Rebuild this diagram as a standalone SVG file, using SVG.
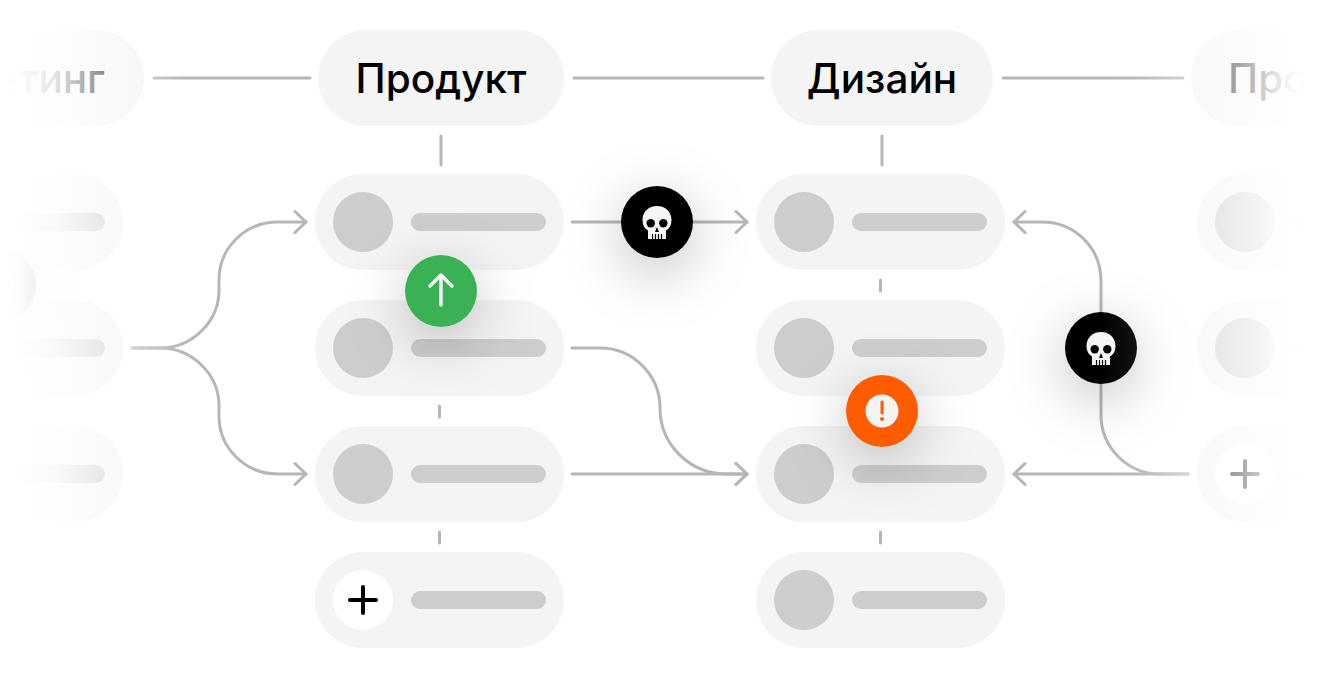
<svg xmlns="http://www.w3.org/2000/svg" width="1323" height="678" viewBox="0 0 1323 678">
<style>
.pill{fill:#f4f4f4}
.dot{fill:#cdcdcd}
.bar{fill:#cdcdcd}
.hd{font-family:Inter,"Liberation Sans","Noto Sans",sans-serif;font-size:40.500px;font-weight:500;fill:#000;text-anchor:middle}
.ln{fill:none;stroke:#b6b6b6;stroke-width:3;stroke-linecap:round}
.ar{marker-end:url(#a)}
.plus{fill:none;stroke-width:4;stroke-linecap:round}
</style>
<defs>
<marker id="a" markerUnits="userSpaceOnUse" markerWidth="16" markerHeight="26" refX="13" refY="13" orient="auto" viewBox="0 0 16 26">
<path d="M2 2.500L13 13L2 23.500" fill="none" stroke="#b6b6b6" stroke-width="3" stroke-linecap="round" stroke-linejoin="round"/>
</marker>
<filter id="s" x="-250%" y="-250%" width="600%" height="600%"><feDropShadow dx="0" dy="14" stdDeviation="28" flood-color="#000" flood-opacity="0.25"/></filter>
<linearGradient id="fl" gradientUnits="userSpaceOnUse" x1="0" y1="0" x2="185" y2="0">
<stop offset="0" stop-color="#fff" stop-opacity="1"/>
<stop offset="0.08" stop-color="#fff" stop-opacity="0.995"/>
<stop offset="0.19" stop-color="#fff" stop-opacity="0.95"/>
<stop offset="0.3" stop-color="#fff" stop-opacity="0.89"/>
<stop offset="0.56" stop-color="#fff" stop-opacity="0.55"/>
<stop offset="0.78" stop-color="#fff" stop-opacity="0.3"/>
<stop offset="1" stop-color="#fff" stop-opacity="0"/>
</linearGradient>
<linearGradient id="fr" gradientUnits="userSpaceOnUse" x1="1100" y1="0" x2="1305" y2="0">
<stop offset="0" stop-color="#fff" stop-opacity="0"/>
<stop offset="0.18" stop-color="#fff" stop-opacity="0.07"/>
<stop offset="0.44" stop-color="#fff" stop-opacity="0.42"/>
<stop offset="0.56" stop-color="#fff" stop-opacity="0.55"/>
<stop offset="0.68" stop-color="#fff" stop-opacity="0.65"/>
<stop offset="0.85" stop-color="#fff" stop-opacity="0.88"/>
<stop offset="0.93" stop-color="#fff" stop-opacity="0.97"/>
<stop offset="1" stop-color="#fff" stop-opacity="1"/>
</linearGradient>
<g id="skull">
<path d="M0-16C8.500-16 14.500-10 14.500-2C14.500 3 12.500 6.500 9 8.500L9 17L-9 17L-9 8.500C-12.500 6.500-14.500 3-14.500-2C-14.500-10-8.500-16 0-16Z" fill="#f6f6f6"/>
<circle cx="-6.300" cy="1.200" r="4.200" fill="#000"/><circle cx="6.300" cy="1.200" r="4.200" fill="#000"/>
<path d="M0 5L2 10L-2 10Z" fill="#000"/>
<path d="M-4.500 12V17M-1.500 12V17M1.500 12V17M4.500 12V17" stroke="#000" stroke-width="1.200" fill="none"/>
</g>
</defs>
<rect width="1323" height="678" fill="#fff"/>

<g id="col-marketing">
<rect class="pill" x="-150" y="30" width="294" height="96" rx="48"/>
<text class="hd" x="105" y="92.500" style="text-anchor:end">Маркетинг</text>
<rect class="pill" x="-126" y="174" width="249" height="96" rx="48"/><rect class="bar" x="-30" y="213" width="135" height="18" rx="9"/>
<rect class="pill" x="-126" y="300" width="249" height="96" rx="48"/><rect class="bar" x="-30" y="339" width="135" height="18" rx="9"/>
<rect class="pill" x="-126" y="426" width="249" height="96" rx="48"/><rect class="bar" x="-30" y="465" width="135" height="18" rx="9"/>
</g>

<g id="col-product">
<rect class="pill" x="318" y="30" width="246" height="96" rx="48"/>
<text class="hd" x="441" y="92.500">Продукт</text>
<g id="p1"><rect class="pill" x="315" y="174" width="249" height="96" rx="48"/><circle class="dot" cx="363" cy="222" r="30"/><rect class="bar" x="411" y="213" width="135" height="18" rx="9"/></g>
<g id="p2"><rect class="pill" x="315" y="300" width="249" height="96" rx="48"/><circle class="dot" cx="363" cy="348" r="30"/><rect class="bar" x="411" y="339" width="135" height="18" rx="9"/></g>
<g id="p3"><rect class="pill" x="315" y="426" width="249" height="96" rx="48"/><circle class="dot" cx="363" cy="474" r="30"/><rect class="bar" x="411" y="465" width="135" height="18" rx="9"/></g>
<g id="p4"><rect class="pill" x="315" y="552" width="249" height="96" rx="48"/><circle cx="363" cy="600" r="30" fill="#fff"/><path class="plus" stroke="#000" d="M350 600H376M363 587V613"/><rect class="bar" x="411" y="591" width="135" height="18" rx="9"/></g>
</g>

<g id="col-design">
<rect class="pill" x="771" y="30" width="222" height="96" rx="48"/>
<text class="hd" x="882" y="92.500">Дизайн</text>
<g id="d1"><rect class="pill" x="756" y="174" width="249" height="96" rx="48"/><circle class="dot" cx="804" cy="222" r="30"/><rect class="bar" x="852" y="213" width="135" height="18" rx="9"/></g>
<g id="d2"><rect class="pill" x="756" y="300" width="249" height="96" rx="48"/><circle class="dot" cx="804" cy="348" r="30"/><rect class="bar" x="852" y="339" width="135" height="18" rx="9"/></g>
<g id="d3"><rect class="pill" x="756" y="426" width="249" height="96" rx="48"/><circle class="dot" cx="804" cy="474" r="30"/><rect class="bar" x="852" y="465" width="135" height="18" rx="9"/></g>
<g id="d4"><rect class="pill" x="756" y="552" width="249" height="96" rx="48"/><circle class="dot" cx="804" cy="600" r="30"/><rect class="bar" x="852" y="591" width="135" height="18" rx="9"/></g>
</g>

<g id="col-next">
<rect class="pill" x="1191" y="30" width="246" height="96" rx="48"/>
<text class="hd" x="1228" y="92.500" style="text-anchor:start">Продукт</text>
<rect class="pill" x="1197" y="174" width="249" height="96" rx="48"/><circle class="dot" cx="1245" cy="222" r="30"/><rect class="bar" x="1293" y="213" width="135" height="18" rx="9"/>
<rect class="pill" x="1197" y="300" width="249" height="96" rx="48"/><circle class="dot" cx="1245" cy="348" r="30"/><rect class="bar" x="1293" y="339" width="135" height="18" rx="9"/>
<rect class="pill" x="1197" y="426" width="249" height="96" rx="48"/><circle cx="1245" cy="474" r="30" fill="#fff"/><path class="plus" stroke="#000" d="M1232 474H1258M1245 461V487"/><rect class="bar" x="1293" y="465" width="135" height="18" rx="9"/>
</g>

<g id="connectors">
<path class="ln" d="M154 78H310M574 78H763M1003 78H1183"/>
<path class="ln" d="M441 136V165M882 136V165M439.500 406V417M439.500 532V543M880.500 280V291M880.500 532V543"/>
<path class="ln ar" d="M132 348H160C192 348 219 322 219 290V280C219 248 245 222 278 222H306"/>
<path class="ln ar" d="M132 348H160C192 348 219 374 219 406V416C219 448 245 474 278 474H306"/>
<path class="ln ar" d="M572 222H747"/>
<path class="ln ar" d="M572 348H600C633 348 660 375 660 408C660 445 690 474 727 474H747"/>
<path class="ln ar" d="M572 474H747"/>
<path class="ln ar" d="M1188 474H1014"/>
<path class="ln ar" d="M1188 474H1160C1127 474 1101 447 1101 415V281C1101 248 1075 222 1042 222H1014"/>
</g>

<g id="badge-left"><circle cx="0" cy="285" r="36" fill="#000" filter="url(#s)"/><use href="#skull" x="0" y="285"/></g>
<g id="badge-up"><circle cx="441" cy="291" r="36" fill="#3ab155" filter="url(#s)"/><path d="M441 305V275M430 286L441 275L452 286" fill="none" stroke="#f6f6f6" stroke-width="3.500" stroke-linecap="round" stroke-linejoin="round"/></g>
<g id="badge-skull-1"><circle cx="657" cy="222" r="36" fill="#000" filter="url(#s)"/><use href="#skull" x="657" y="222"/></g>
<g id="badge-alert"><circle cx="882" cy="411" r="36" fill="#ff5c00" filter="url(#s)"/><circle cx="882" cy="411" r="16.500" fill="#f4f4f4"/><path d="M882 402V413" stroke="#ff5c00" stroke-width="3" stroke-linecap="round"/><circle cx="882" cy="419" r="2" fill="#ff5c00"/></g>
<g id="badge-skull-2"><circle cx="1101" cy="348" r="36" fill="#000" filter="url(#s)"/><use href="#skull" x="1101" y="348"/></g>

<rect x="0" y="0" width="185" height="678" fill="url(#fl)"/>
<rect x="1100" y="0" width="223" height="678" fill="url(#fr)"/>
</svg>
